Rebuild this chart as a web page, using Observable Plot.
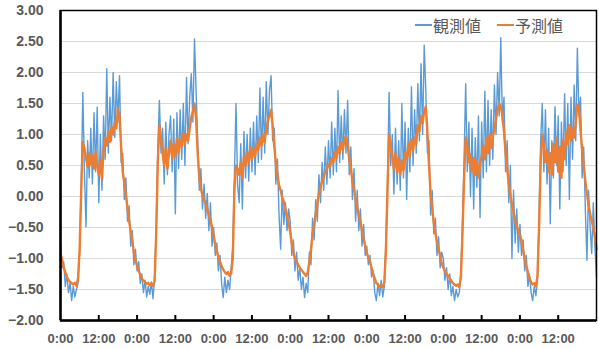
<!DOCTYPE html>
<html><head><meta charset="utf-8">
<script src="https://cdn.jsdelivr.net/npm/d3@7"></script>
<script src="https://cdn.jsdelivr.net/npm/@observablehq/plot@0.6"></script>
<style>
body{margin:0;background:#fff;}
#wrap{position:relative;width:599px;height:349px;overflow:hidden;}
.leg{position:absolute;top:15px;height:20px;line-height:20px;font-family:"Noto Sans CJK JP";font-size:16px;color:#595959;display:flex;align-items:center;white-space:nowrap;}
.leg .sw{display:inline-block;width:17px;height:2px;margin-right:1px;}
</style></head>
<body><div id="wrap"></div>
<script>
// Half-hourly values, each day starting at 0:00
const obsDay1 = [-0.75,-1.15,-1.05,-1.45,-1.25,-1.55,-1.40,-1.68,-1.45,-1.62,-1.50,-1.40,-0.90,0.20,1.68,0.40,-0.49,0.90,0.30,1.10,0.20,1.35,0.40,1.44,-0.10,1.00,0.10,1.30,0.60,2.06,0.70,1.60,0.90,2.00,0.95,1.85,1.20,1.95,0.55,0.70,-0.05,0.30,-0.40,-0.15,-0.80,-0.55,-1.10,-0.85];
const predDay1 = [-0.92,-1.02,-1.14,-1.22,-1.30,-1.34,-1.38,-1.40,-1.42,-1.39,-1.44,-1.32,-0.85,0.10,0.88,0.78,0.62,0.48,0.70,0.52,0.66,0.45,0.72,0.50,0.35,0.58,0.28,0.75,0.95,0.82,1.05,0.88,1.12,1.00,1.20,1.10,1.42,1.30,0.80,0.40,0.22,0.02,-0.18,-0.40,-0.55,-0.72,-0.90,-1.02];
const obsDay2 = [-1.20,-1.05,-1.40,-1.25,-1.55,-1.35,-1.62,-1.45,-1.58,-1.38,-1.65,-1.30,-0.50,0.80,1.55,0.70,1.10,0.20,1.20,0.35,1.00,1.30,0.40,1.25,-0.28,1.35,0.45,1.40,0.60,1.50,0.50,1.92,0.85,1.60,1.98,1.20,2.54,1.70,0.90,0.10,0.45,-0.20,0.20,-0.35,0.05,-0.55,-0.10,-0.80];
const predDay2 = [-1.12,-1.20,-1.26,-1.32,-1.36,-1.38,-1.41,-1.39,-1.43,-1.40,-1.44,-1.36,-0.60,0.55,1.15,0.95,0.70,0.50,0.78,0.45,0.70,0.90,0.62,0.85,0.65,0.95,0.70,0.92,0.80,1.02,0.85,1.00,0.90,1.10,1.28,1.38,1.50,1.25,0.70,0.30,0.12,0.02,-0.05,-0.12,-0.20,-0.30,-0.38,-0.50];
const obsDay3 = [-0.50,-0.95,-0.75,-1.20,-0.95,-1.40,-1.63,-1.30,-1.55,-1.35,-1.50,-1.15,-0.80,0.30,1.50,0.20,-0.10,0.85,-0.20,1.05,0.30,1.00,0.25,1.10,0.40,1.20,0.35,1.30,0.55,1.75,0.60,1.60,0.70,1.85,1.00,1.70,1.95,0.90,1.10,0.20,0.60,-0.30,-0.85,0.10,-0.45,-0.10,-0.55,-0.20];
const predDay3 = [-0.62,-0.78,-0.88,-0.98,-1.05,-1.12,-1.18,-1.22,-1.25,-1.22,-1.28,-1.24,-1.00,0.10,0.50,0.45,0.35,0.55,0.30,0.65,0.50,0.72,0.55,0.80,0.60,0.78,0.65,0.85,0.75,0.95,0.82,1.00,0.88,1.10,1.22,1.30,1.40,1.15,0.80,0.55,0.35,0.18,0.10,-0.02,-0.08,-0.20,-0.30,-0.42];
const obsDay4 = [-0.40,-0.95,-0.70,-1.20,-0.90,-1.35,-1.15,-1.50,-1.30,-1.63,-1.40,-1.55,-0.90,-1.10,-0.35,-0.70,-0.05,-0.40,0.35,-0.10,0.55,0.10,0.80,0.20,0.90,0.30,1.20,0.35,1.10,0.40,1.71,0.55,1.30,0.60,1.40,0.70,1.55,0.35,0.80,-0.05,0.45,-0.40,0.10,-0.55,-0.20,-0.80,-0.45,-0.95];
const predDay4 = [-0.58,-0.75,-0.90,-1.00,-1.05,-1.10,-1.15,-1.18,-1.22,-1.25,-1.28,-1.22,-1.05,-0.85,-0.60,-0.45,-0.28,-0.12,0.05,0.15,0.25,0.32,0.40,0.45,0.52,0.48,0.62,0.55,0.72,0.62,0.80,0.70,0.88,0.75,0.92,0.98,0.85,0.60,0.45,0.25,0.12,-0.05,-0.17,-0.30,-0.40,-0.55,-0.68,-0.80];
const obsDay5 = [-0.80,-1.10,-0.95,-1.30,-1.20,-1.55,-1.68,-1.40,-1.60,-1.35,-1.62,-1.45,-0.75,0.30,1.68,0.50,1.00,0.04,1.10,0.20,0.90,0.10,1.50,0.30,1.20,-0.05,1.10,0.40,1.77,0.50,1.40,0.70,1.82,0.90,2.14,1.00,2.44,1.70,0.70,0.90,-0.30,0.10,-0.60,-0.35,-0.95,-0.65,-1.15,-0.90];
const predDay5 = [-0.92,-0.98,-1.05,-1.15,-1.25,-1.32,-1.40,-1.42,-1.45,-1.43,-1.46,-1.38,-0.85,0.10,1.00,0.80,0.65,0.45,0.70,0.38,0.62,0.35,0.58,0.42,0.70,0.60,0.85,0.65,0.92,0.75,0.95,0.85,1.15,1.05,1.30,1.18,1.38,1.45,1.05,0.50,0.05,-0.20,-0.42,-0.60,-0.72,-0.85,-0.95,-1.08];
const obsDay6 = [-1.00,-1.35,-1.15,-1.50,-1.25,-1.60,-1.45,-1.68,-1.50,-1.62,-1.55,-1.20,-0.40,0.60,1.82,0.40,1.20,0.00,1.10,-0.20,0.95,0.15,1.30,-0.34,1.20,0.30,1.70,0.40,1.55,0.50,1.40,0.60,1.80,1.00,2.00,1.30,2.56,1.20,1.60,0.40,0.90,-0.10,0.50,-1.00,0.10,-0.75,-0.20,-0.90];
const predDay6 = [-1.15,-1.20,-1.25,-1.28,-1.32,-1.36,-1.40,-1.42,-1.44,-1.42,-1.46,-1.30,-0.60,0.30,0.95,0.80,0.55,0.68,0.40,0.62,0.35,0.58,0.30,0.55,0.65,0.82,0.60,0.95,0.70,1.00,0.78,0.95,1.10,1.25,1.40,1.50,1.45,1.30,1.05,0.70,0.45,0.20,0.02,-0.12,-0.25,-0.38,-0.48,-0.55];
const obsDay7 = [-0.45,-0.95,-0.70,-1.20,-0.95,-1.45,-1.25,-1.55,-1.68,-1.45,-1.60,-1.35,-0.30,0.90,1.50,0.40,1.40,0.20,1.10,-0.44,0.90,0.30,1.45,0.50,1.30,-0.20,1.20,0.40,1.66,0.50,1.50,-0.05,1.60,0.60,1.80,0.90,2.39,1.30,1.60,0.30,0.80,-0.20,-1.03,0.10,-0.50,-0.92,-0.10,-0.80,-1.30];
const predDay7 = [-0.62,-0.71,-0.87,-1.00,-1.12,-1.22,-1.32,-1.38,-1.42,-1.40,-1.45,-1.28,-0.50,0.55,1.00,0.82,0.55,0.75,0.40,0.70,0.35,0.85,0.55,0.95,0.40,0.80,0.30,0.90,0.60,1.05,0.85,1.15,0.90,1.10,0.95,1.20,1.48,1.45,1.06,0.75,0.50,0.25,0.04,-0.12,-0.28,-0.40,-0.50,-0.65,-0.85];

const seriesNames = ["観測値", "予測値"];
const seriesColors = ["#5B9BD5", "#ED7D31"];
const xTickHours = [0,12,24,36,48,60,72,84,96,108,120,132,144,156];
const xTickLabels = ["0:00","12:00","0:00","12:00","0:00","12:00","0:00","12:00","0:00","12:00","0:00","12:00","0:00","12:00"];
const xTickMarks = [12,24,36,48,60,72,84,96,108,120,132,144,156];
const yTicks = [-2,-1.5,-1,-0.5,0,0.5,1,1.5,2,2.5,3];

const obsDays = [obsDay1,obsDay2,obsDay3,obsDay4,obsDay5,obsDay6,obsDay7];
const predDays = [predDay1,predDay2,predDay3,predDay4,predDay5,predDay6,predDay7];
const toRows = days => days.flatMap((arr, d) => arr.map((v, i) => ({t: d * 24 + i * 0.5, v})));
const obs = toRows(obsDays);
const pred = toRows(predDays);

const W = 599, H = 349, mT = 10, mB = 29;
const chart = Plot.plot({
  width: W, height: H,
  marginLeft: 60, marginRight: 3, marginTop: mT, marginBottom: mB,
  style: {background: "white"},
  x: {domain: [0, 168], axis: null},
  y: {domain: [-2, 3], axis: null},
  marks: [
    Plot.gridY(yTicks, {stroke: "#d9d9d9", strokeOpacity: 1, strokeWidth: 1}),
    Plot.lineY(obs, {x: "t", y: "v", stroke: seriesColors[0], strokeWidth: 1.4}),
    Plot.lineY(pred, {x: "t", y: "v", stroke: seriesColors[1], strokeWidth: 2.4}),
    Plot.frame({stroke: "black", strokeWidth: 1.5}),
    Plot.ruleX([0], {stroke: "black", strokeWidth: 2.5}),
    Plot.ruleY([-2], {stroke: "black", strokeWidth: 2.5}),
    Plot.ruleX(xTickMarks, {stroke: "black", strokeWidth: 2, insetTop: H - mT - mB - 5}),
    Plot.axisY(yTicks, {tickSize: 0, tickPadding: 17, tickFormat: d3.format(".2f"), label: null,
      fontSize: 14, fontWeight: "bold", fontFamily: "Liberation Sans", fill: "#595959"}),
    Plot.axisX(xTickHours, {tickSize: 0, tickPadding: 13, label: null,
      tickFormat: d => xTickLabels[xTickHours.indexOf(d)],
      fontSize: 13, fontWeight: "bold", fontFamily: "Liberation Sans", fill: "#595959"})
  ]
});
const wrap = document.getElementById("wrap");
wrap.appendChild(chart);
const legPos = [415, 497];
seriesNames.forEach((name, i) => {
  const d = document.createElement("div");
  d.className = "leg";
  d.style.left = legPos[i] + "px";
  d.innerHTML = `<span class="sw" style="background:${seriesColors[i]}"></span><span>${name}</span>`;
  wrap.appendChild(d);
});
</script></body></html>
